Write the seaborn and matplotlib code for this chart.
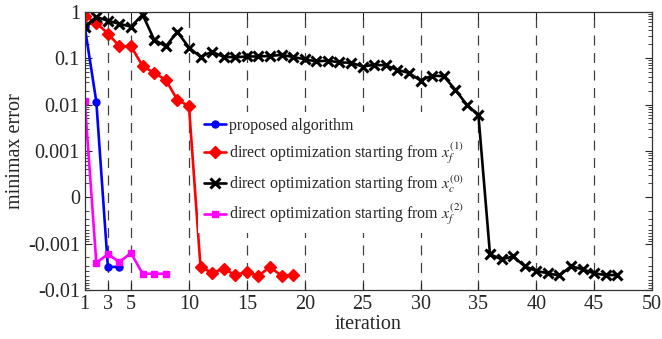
import numpy as np
import pandas as pd
import matplotlib
matplotlib.use("Agg")
import matplotlib.pyplot as plt
import seaborn as sns

# iteration numbers and minimax error per method
it_proposed = [1, 2, 3, 4]
err_proposed = [0.48, 0.0115, -0.0032, -0.0032]

it_xf1 = list(range(1, 20))
err_xf1 = [0.82, 0.58, 0.34, 0.18, 0.18, 0.068, 0.048, 0.034, 0.0126, 0.0093,
           -0.0032, -0.0043, -0.0035, -0.0048, -0.0041, -0.005, -0.0032, -0.005, -0.0048]

it_xc0 = list(range(1, 48))
err_xc0 = [0.48, 0.78, 0.64, 0.55, 0.48, 0.87, 0.25, 0.18, 0.37, 0.17,
           0.107, 0.137, 0.107, 0.105, 0.109, 0.109, 0.112, 0.118, 0.106, 0.095,
           0.085, 0.089, 0.081, 0.080, 0.066, 0.072, 0.070, 0.056, 0.048, 0.033,
           0.042, 0.041, 0.021, 0.0098, 0.006,
           -0.0017, -0.0022, -0.0019, -0.0031, -0.0039, -0.0044, -0.0049, -0.0031,
           -0.0036, -0.0044, -0.0048, -0.0048]

it_xf2 = [1, 2, 3, 4, 5, 6, 7, 8]
err_xf2 = [0.012, -0.0026, -0.0017, -0.0025, -0.0016, -0.0045, -0.0045, -0.0045]

labels = ["proposed algorithm",
          r"direct optimization starting from $x_f^{(1)}$",
          r"direct optimization starting from $x_c^{(0)}$",
          r"direct optimization starting from $x_f^{(2)}$"]

x_ticks = [1, 3, 5, 10, 15, 20, 25, 30, 35, 40, 45, 50]
y_ticks = [-0.01, -0.001, 0, 0.001, 0.01, 0.1, 1]
y_tick_labels = ["-0.01", "-0.001", "0", "0.001", "0.01", "0.1", "1"]

sns.set_style("ticks")
plt.rcParams["font.family"] = ["Liberation Serif", "DejaVu Serif"]
plt.rcParams["mathtext.fontset"] = "stix"

fig = plt.figure(figsize=(6.62, 3.39), dpi=100)
ax = fig.add_axes([0.128, 0.145, 0.857, 0.82])

styles = [
    dict(color="#0000ff", marker="o", markersize=5, markeredgewidth=1),
    dict(color="#ff0000", marker="D", markersize=6.2, markeredgewidth=1),
    dict(color="#000000", marker="x", markersize=6.5, markeredgewidth=2.2),
    dict(color="#ff00ff", marker="s", markersize=5, markeredgewidth=1),
]
series = [(it_proposed, err_proposed), (it_xf1, err_xf1),
          (it_xc0, err_xc0), (it_xf2, err_xf2)]

for (xs, ys), lab, st in zip(series, labels, styles):
    df = pd.DataFrame({"iteration": xs, "error": ys})
    sns.lineplot(data=df, x="iteration", y="error", ax=ax, label=lab,
                 linewidth=1.9, markeredgecolor=st["color"],
                 markerfacecolor=st["color"], **st)

ax.set_yscale("symlog", linthresh=1e-3, linscale=0.9)
ax.set_ylim(-0.01, 1)
ax.set_xlim(1, 50)

ax.set_xticks(x_ticks)
ax.set_yticks(y_ticks)
ax.set_yticklabels(y_tick_labels)

# log-style minor ticks in each decade (and mirrored in the linear band)
minor = []
for k in range(2, 10):
    for p in (-3, -2, -1):
        minor.append(k * 10.0 ** p)
    minor.append(-k * 1e-3)
    minor.append(1e-3 * np.log10(k))
    minor.append(-1e-3 * np.log10(k))
ax.set_yticks(minor, minor=True)
ax.tick_params(axis="y", which="minor", length=3, direction="in", right=True, width=0.6)
ax.tick_params(axis="both", which="major", direction="in", length=5, right=True,
               top=True, labelsize=14.5, width=0.8)

for xv in x_ticks[1:-1]:
    ax.axvline(xv, color="0.25", linestyle=(0, (8, 6)), linewidth=0.9, zorder=0)

for sp in ax.spines.values():
    sp.set_color("0.2")
    sp.set_linewidth(0.9)

ax.set_xlabel("iteration", fontsize=14.5, labelpad=1)
ax.set_ylabel("minimax error", fontsize=14.5, labelpad=2)

leg = ax.legend(loc="upper left", bbox_to_anchor=(198 / 662, 1 - 112 / 339),
                bbox_transform=fig.transFigure, frameon=True, fancybox=False,
                facecolor="white", edgecolor="none", framealpha=1.0,
                fontsize=11.5, handlelength=1.4, handletextpad=0.2,
                borderpad=0.35, borderaxespad=0, labelspacing=0.45)

fig.savefig("out.png", dpi=100)
